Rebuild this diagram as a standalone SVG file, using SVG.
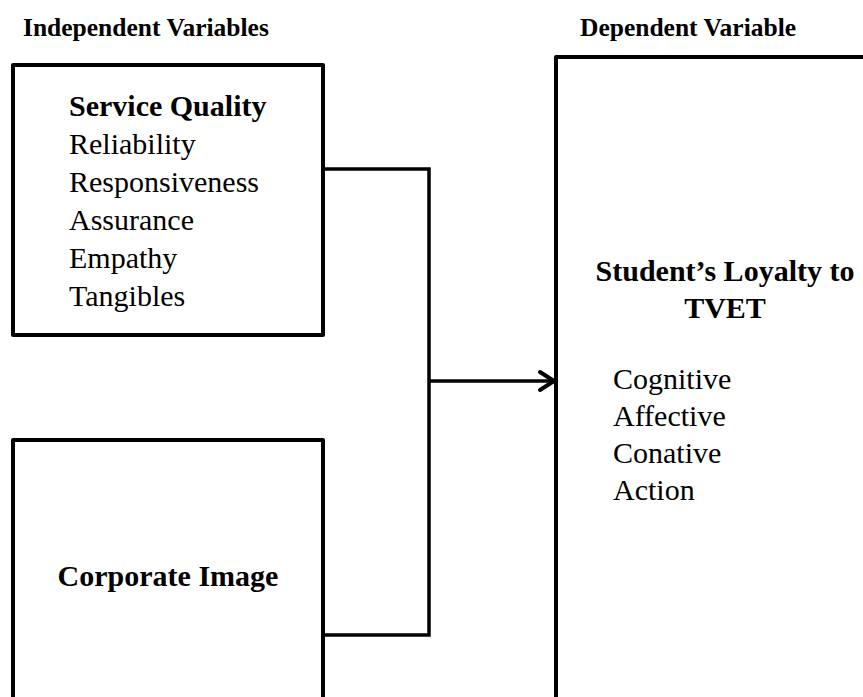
<svg xmlns="http://www.w3.org/2000/svg" width="863" height="697" viewBox="0 0 863 697">
<style>
.box{fill:#fff;stroke:#000;stroke-width:4;stroke-linejoin:round}
.con{fill:none;stroke:#000;stroke-width:3.5;stroke-linejoin:miter}
.hd{font-family:"Liberation Serif",serif;font-weight:bold;font-size:25.5px;fill:#000}
.b{font-family:"Liberation Serif",serif;font-weight:bold;font-size:30px;fill:#000}
.r{font-family:"Liberation Serif",serif;font-size:30px;fill:#000}
</style>
<rect width="863" height="697" fill="#fff"/>
<text class="hd" x="23" y="36">Independent Variables</text>
<text class="hd" x="580" y="36">Dependent Variable</text>
<g id="service-quality">
<rect class="box" x="13" y="65" width="310" height="270"/>
<text class="b" x="69" y="116">Service Quality</text>
<text class="r" x="69" y="154">Reliability</text>
<text class="r" x="69" y="192">Responsiveness</text>
<text class="r" x="69" y="230">Assurance</text>
<text class="r" x="69" y="268">Empathy</text>
<text class="r" x="69" y="306">Tangibles</text>
</g>
<g id="corporate-image">
<rect class="box" x="13" y="440" width="310" height="270"/>
<text class="b" x="168" y="586" text-anchor="middle">Corporate Image</text>
</g>
<g id="loyalty">
<rect class="box" x="556" y="57" width="320" height="660"/>
<text class="b" x="725" y="281" text-anchor="middle">Student’s Loyalty to</text>
<text class="b" x="725" y="318" text-anchor="middle">TVET</text>
<text class="r" x="613" y="389">Cognitive</text>
<text class="r" x="613" y="426">Affective</text>
<text class="r" x="613" y="463">Conative</text>
<text class="r" x="613" y="500">Action</text>
</g>
<g id="connectors">
<path class="con" d="M323 169 H429 V635 H323"/>
<path class="con" d="M429 381 H553"/>
<path d="M540 372 L554 381 L540 390" fill="none" stroke="#000" stroke-width="4" stroke-linecap="round" stroke-linejoin="round"/>
</g>
</svg>
